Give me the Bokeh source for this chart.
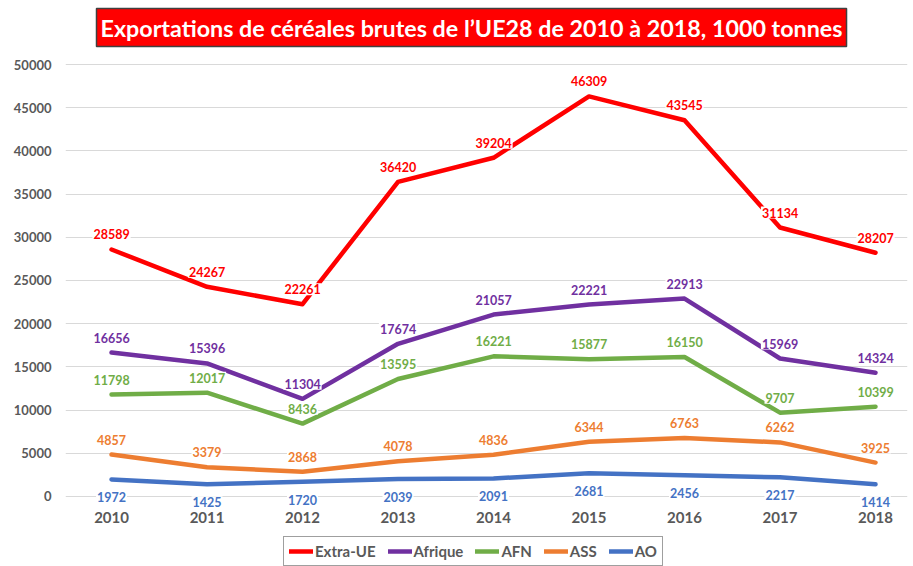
from bokeh.plotting import figure
from bokeh.models import (Range1d, FixedTicker, NumeralTickFormatter, Title, Legend,
                          LegendItem, ColumnDataSource)
from bokeh.core.properties import value
from bokeh.embed import file_html
from bokeh.resources import INLINE

years = [2010, 2011, 2012, 2013, 2014, 2015, 2016, 2017, 2018]
extra_ue = [28589, 24267, 22261, 36420, 39204, 46309, 43545, 31134, 28207]
afrique = [16656, 15396, 11304, 17674, 21057, 22221, 22913, 15969, 14324]
afn = [11798, 12017, 8436, 13595, 16221, 15877, 16150, 9707, 10399]
ass = [4857, 3379, 2868, 4078, 4836, 6344, 6763, 6262, 3925]
ao = [1972, 1425, 1720, 2039, 2091, 2681, 2456, 2217, 1414]
series_names = ["Extra-UE", "Afrique", "AFN", "ASS", "AO"]
y_ticks = [0, 5000, 10000, 15000, 20000, 25000, 30000, 35000, 40000, 45000, 50000]
title_text = "Exportations de céréales brutes de l\u2019UE28 de 2010 à 2018, 1000 tonnes"

colors = ["#FF0000", "#7030A0", "#70AD47", "#ED7D31", "#4472C4"]
all_series = [extra_ue, afrique, afn, ass, ao]
FONT = "Lato"

p = figure(width=913, height=566, output_backend="svg", toolbar_location=None,
           x_range=Range1d(2009.518, 2018.335), y_range=Range1d(-8102, 50926),
           min_border_left=65, min_border_right=6, min_border_top=56, min_border_bottom=0)
p.outline_line_color = None
p.background_fill_color = "white"
p.border_fill_color = "white"

t = Title(text=title_text, align="left", vertical_align="top", text_color="white",
          text_font=FONT, text_font_style="bold", text_font_size="23.3px",
          background_fill_color="#FF0000", border_line_color="#404040", border_line_width=1.5,
          padding=(4, 5), standoff=16, offset=31)
p.add_layout(t, "above")

p.xaxis.ticker = FixedTicker(ticks=years)
p.xaxis.fixed_location = 0
p.xaxis.axis_line_color = None
p.xaxis.major_tick_line_color = None
p.xaxis.major_tick_out = 0
p.xaxis.minor_tick_line_color = None
p.xaxis.major_label_text_font = FONT
p.xaxis.major_label_text_font_style = "bold"
p.xaxis.major_label_text_font_size = "15px"
p.xaxis.major_label_text_color = "#595959"
p.xaxis.major_label_standoff = 16

p.yaxis.ticker = FixedTicker(ticks=y_ticks)
p.yaxis.formatter = NumeralTickFormatter(format="0")
p.yaxis.axis_line_color = None
p.yaxis.major_tick_line_color = None
p.yaxis.major_tick_out = 0
p.yaxis.minor_tick_line_color = None
p.yaxis.major_label_text_font = FONT
p.yaxis.major_label_text_font_style = "bold"
p.yaxis.major_label_text_font_size = "13px"
p.yaxis.major_label_text_color = "#595959"
p.yaxis.major_label_standoff = 14

p.xgrid.grid_line_color = None
p.ygrid.grid_line_color = "#D9D9D9"
p.ygrid.grid_line_width = 1.2

items = []
for name, vals, col in zip(series_names, all_series, colors):
    r = p.line(years, vals, line_color=col, line_width=4.5, line_join="round", line_cap="round")
    items.append(LegendItem(label=name, renderers=[r]))

for name, vals, col in zip(series_names, all_series, colors):
    src = ColumnDataSource(dict(x=years, y=vals, t=[str(v) for v in vals]))
    off = 18 if name == "AO" else -15
    p.text(x="x", y="y", text="t", source=src, text_color=col, text_font=value(FONT),
           text_font_style="bold", text_font_size="12.5px", text_align="center",
           text_baseline="middle", y_offset=off,
           background_fill_color="white", padding=1)

legend = Legend(items=items, orientation="horizontal", location=(218, 0),
                label_text_font=FONT, label_text_font_style="bold", label_text_font_size="15px",
                label_text_color="#595959", glyph_width=24, glyph_height=16, label_standoff=2,
                label_height=18, spacing=12, padding=5, margin=0,
                border_line_color="#404040", border_line_width=1,
                background_fill_color="white", background_fill_alpha=1)
p.add_layout(legend, "center")

open("out.html", "w").write(file_html(p, INLINE))
